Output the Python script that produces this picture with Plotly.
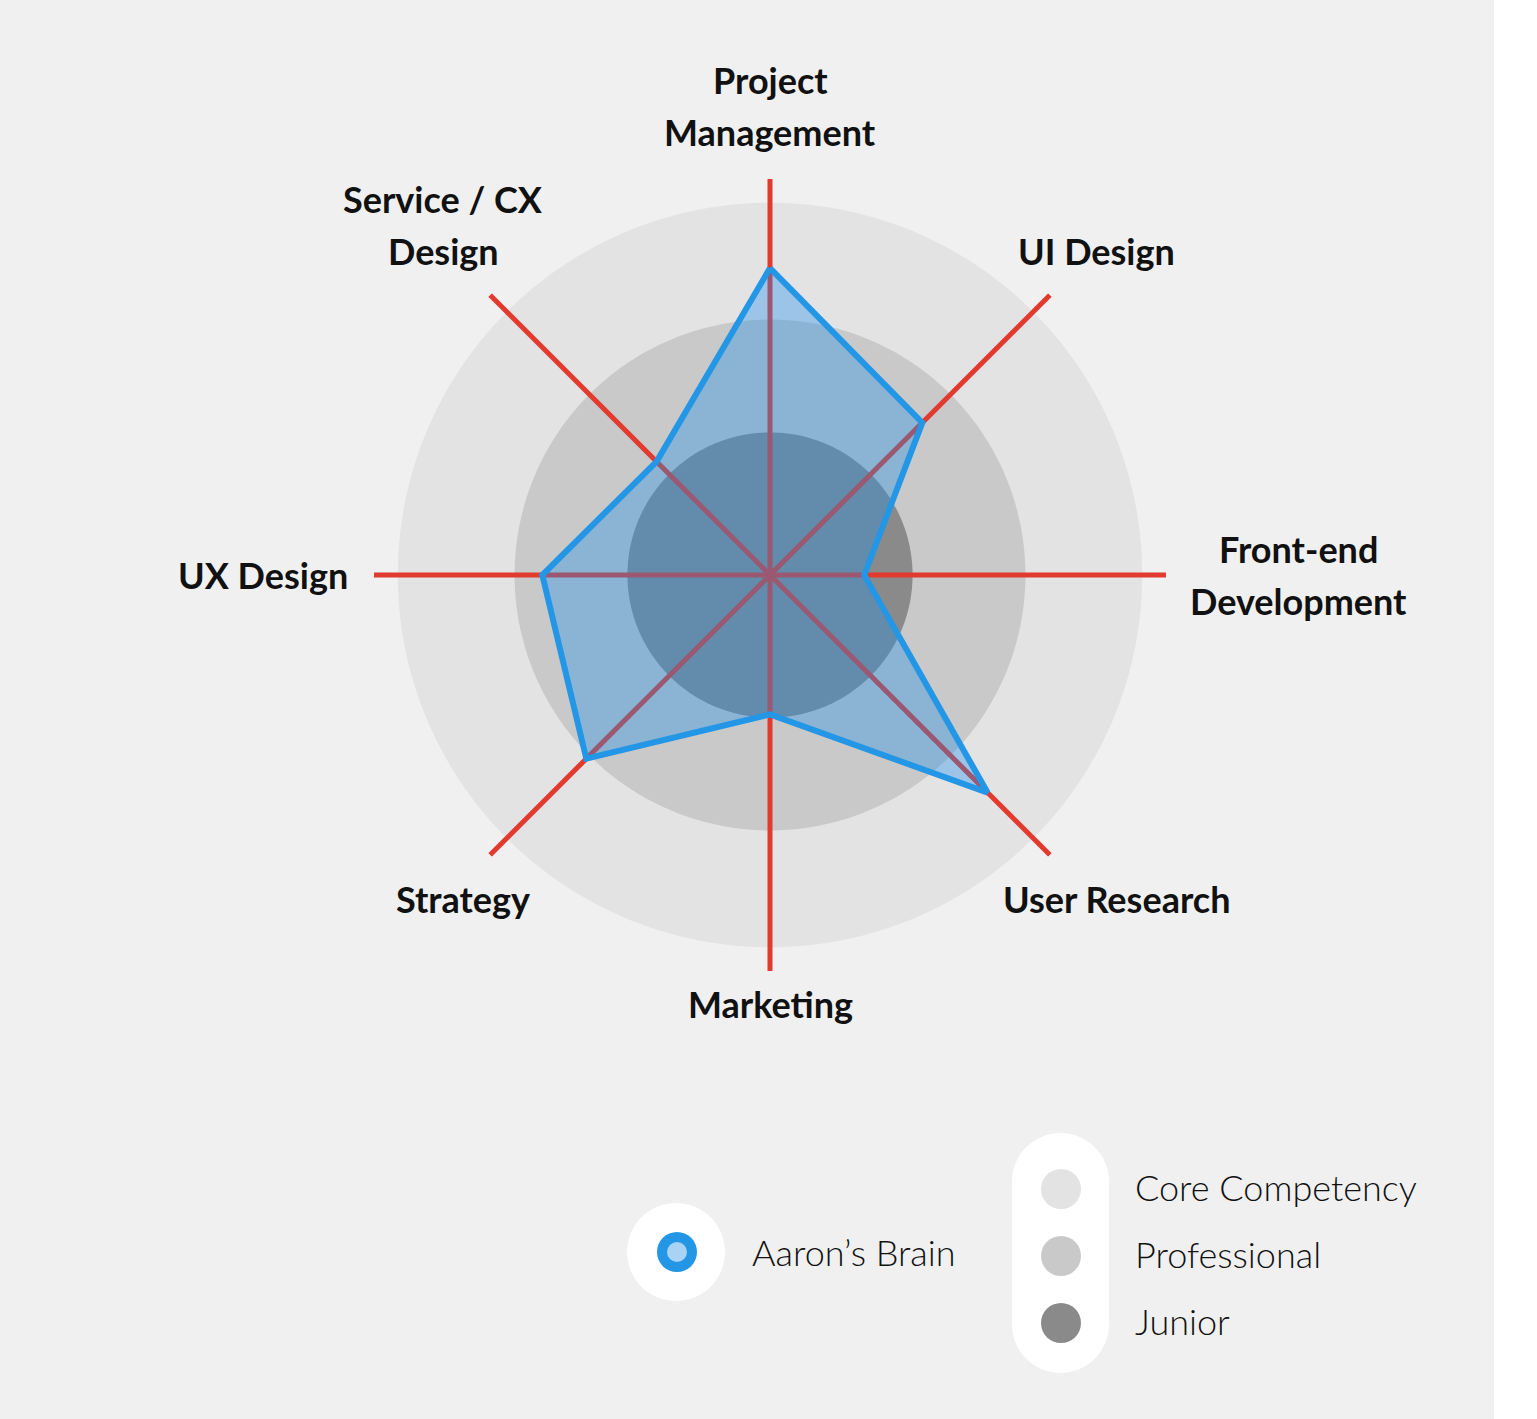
import numpy as np
import plotly.graph_objects as go

# ---------------- data ----------------
categories = ["Project<br>Management", "UI Design", "Front-end<br>Development", "User Research",
              "Marketing", "Strategy", "UX Design", "Service / CX<br>Design"]
angles = [0, 45, 90, 135, 180, 225, 270, 315]
brain_values = [77.5, 54.4, 23.8, 77.7, 35.2, 65.6, 57.5, 40.5]
series_name = "Aaron’s Brain"

level_names = ["Core Competency", "Professional", "Junior"]
level_values = [94, 64.5, 36]
level_colors = ["#e4e3e4", "#c9c9c9", "#8a8a8a"]
axis_max = 100

# ---------------- layout constants ----------------
W, H = 1537, 1419
CX, CY = 770, 575           # polar center in px (from top-left)
RPX = 396                   # polar radius in px

def px(x):
    return x / W

def py(y):
    return (H - y) / H

fig = go.Figure()

# level discs
theta_circle = np.linspace(0, 360, 361)
for name, val, col in zip(level_names, level_values, level_colors):
    fig.add_trace(go.Scatterpolar(
        r=np.full_like(theta_circle, val), theta=theta_circle, mode="lines",
        fill="toself", fillcolor=col, line=dict(width=0, color=col),
        hoverinfo="skip", showlegend=False))

# red axis lines
for a in angles:
    fig.add_trace(go.Scatterpolar(
        r=[0, axis_max], theta=[a, a], mode="lines",
        line=dict(color="#e23a2e", width=5), hoverinfo="skip", showlegend=False))

# data polygon
fig.add_trace(go.Scatterpolar(
    r=brain_values + [brain_values[0]], theta=angles + [angles[0]], mode="lines",
    fill="toself", fillcolor="rgba(28,140,232,0.36)",
    line=dict(color="#2496e6", width=6), name=series_name,
    hoverinfo="skip", showlegend=False))

fig.update_layout(
    width=W, height=H, autosize=False,
    margin=dict(l=0, r=0, t=0, b=0),
    paper_bgcolor="white", plot_bgcolor="rgba(0,0,0,0)",
    showlegend=False,
    polar=dict(
        domain=dict(x=[px(CX - RPX), px(CX + RPX)], y=[py(CY + RPX), py(CY - RPX)]),
        bgcolor="rgba(0,0,0,0)",
        radialaxis=dict(visible=False, range=[0, axis_max]),
        angularaxis=dict(visible=False, rotation=90, direction="clockwise"),
    ),
)

shapes = []
# gray page background
shapes.append(dict(type="rect", xref="paper", yref="paper", x0=0, x1=px(1494), y0=0, y1=1,
                   fillcolor="#f0f0f0", line=dict(width=0), layer="below"))

annotations = []
FS = 36
LABEL_FONT = dict(family="Lato, Noto Sans, sans-serif", size=FS, color="#111111", weight="bold")
LINE_H = 52
for cat, a in zip(categories, angles):
    lines = cat.split("<br>")
    n = len(lines)
    s, c = np.sin(np.radians(a)), np.cos(np.radians(a))
    if abs(s) > 0.9:
        if n == 1:
            xa = "left" if s > 0 else "right"
            x = CX + s * 420
        else:
            xa = "center"
            half_w = 0.55 * FS * max(len(l) for l in lines) / 2
            x = CX + s * (420 + half_w)
        line_ys = [CY + (i - (n - 1) / 2) * LINE_H for i in range(n)]
    elif abs(c) > 0.9:
        xa = "center"
        x = CX
        yc = CY - c * (410 + 7 * c + n * LINE_H / 2)
        line_ys = [yc + (i - (n - 1) / 2) * LINE_H for i in range(n)]
    else:
        xa = "center"
        x = CX + s * 462 + (20 if c < 0 else 0)
        y_near = CY - c * 458
        if c > 0:   # stack upward from the line nearest the chart
            line_ys = [y_near - (n - 1 - i) * LINE_H for i in range(n)]
        else:
            line_ys = [y_near + i * LINE_H for i in range(n)]
    for ln, yl in zip(lines, line_ys):
        annotations.append(dict(text=ln, x=px(x), y=py(yl), xref="paper", yref="paper",
                                xanchor=xa, yanchor="middle", showarrow=False, font=LABEL_FONT))

# ---------------- custom legend ----------------
LEG_FONT = dict(family="Lato, Noto Sans, sans-serif", size=36, color="#111111", weight=300)

def circle(xc, yc, r, color):
    return dict(type="circle", xref="paper", yref="paper",
                x0=px(xc - r), x1=px(xc + r), y0=py(yc + r), y1=py(yc - r),
                fillcolor=color, line=dict(width=0), layer="above")

# series legend
shapes.append(circle(676, 1252, 49, "white"))
shapes.append(circle(677, 1252, 20, "#2496e6"))
shapes.append(circle(677, 1252, 10, "#a8d3f4"))
annotations.append(dict(text=series_name, x=px(750), y=py(1252), xref="paper", yref="paper",
                        xanchor="left", yanchor="middle", showarrow=False, font=LEG_FONT))

# levels legend pill
pill_x0, pill_x1, pill_y0, pill_y1 = 1012, 1109, 1133, 1373
pr = (pill_x1 - pill_x0) / 2
shapes.append(dict(type="rect", xref="paper", yref="paper",
                   x0=px(pill_x0), x1=px(pill_x1), y0=py(pill_y1 - pr), y1=py(pill_y0 + pr),
                   fillcolor="white", line=dict(width=0), layer="above"))
shapes.append(circle((pill_x0 + pill_x1) / 2, pill_y0 + pr, pr, "white"))
shapes.append(circle((pill_x0 + pill_x1) / 2, pill_y1 - pr, pr, "white"))
for i, (name, col) in enumerate(zip(level_names, level_colors)):
    yy = 1189 + i * 67
    shapes.append(circle(1061, yy, 20, col))
    annotations.append(dict(text=name, x=px(1133), y=py(yy - 2), xref="paper", yref="paper",
                            xanchor="left", yanchor="middle", showarrow=False, font=LEG_FONT))

fig.update_layout(shapes=shapes, annotations=annotations)
fig.write_html("out.html")
